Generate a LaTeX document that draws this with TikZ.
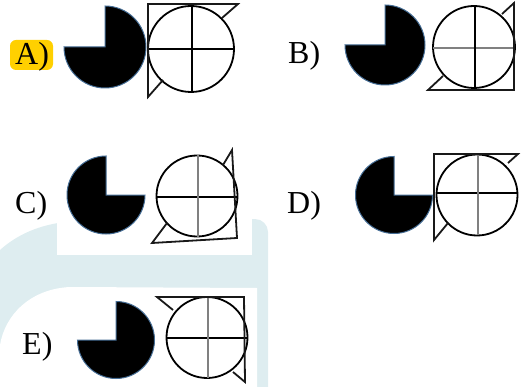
\documentclass[tikz,border=0pt]{standalone}
\usepackage{fontspec}
\setmainfont{Liberation Serif}
\definecolor{wm}{RGB}{222,237,240}
\definecolor{hl}{RGB}{255,208,0}
\definecolor{pacedge}{RGB}{70,110,150}
\definecolor{gline}{RGB}{128,128,128}
\tikzset{
  lbl/.style={anchor=base west, inner sep=0pt, font=\fontsize{32}{32}\selectfont},
  pac/.style={fill=black, draw=pacedge, line width=1pt},
  frm/.style={draw=black!90, line width=1.8pt, line join=miter},
  crs/.style={draw=black, line width=1.8pt},
  gcrs/.style={draw=gline, line width=2.6pt}
}
\begin{document}
\begin{tikzpicture}[x=1pt,y=-1pt]
\useasboundingbox (0,0) rectangle (526,387);
% watermark
\fill[wm] (0,250) .. controls (20,232) and (45,223) .. (75,221) -- (255,219)
  arc[start angle=90, end angle=0, radius=13pt] -- (268,387) -- (0,387) -- cycle;
\fill[white] (57,200) rectangle (252,255);
\fill[white] (0,345) .. controls (5,315) and (30,289) .. (70,287) -- (257,288) -- (257,387) -- (0,387) -- cycle;
% A
\fill[hl, rounded corners=6pt] (10,40) rectangle (53,70);
\node[lbl] (la) at (15,65) {A)};
\fill[pac] (105,47) -- ++(-41pt,0pt) arc[start angle=180, end angle=450, radius=41pt] -- cycle;
\draw[crs] (191,49) circle[radius=43pt];
\draw[crs] (148,49) -- (234,49);
\draw[crs] (192,4) -- (192,93);
\draw[frm] (222,18) -- (238,4) -- (148,4) -- (148,97) -- (163,80);
% B
\node[lbl] (lb) at (288,64) {B)};
\fill[pac] (385,45) -- ++(-40pt,0pt) arc[start angle=180, end angle=450, radius=40pt] -- cycle;
\draw[crs] (474,47) circle[radius=41pt];
\draw[gcrs] (433,48) -- (514,48);
\draw[crs] (475,6) -- (475,90);
\draw[frm] (502,14) -- (514,3) -- (514,90) -- (428,90) -- (443,76);
% C
\node[lbl] (lc) at (15,213) {C)};
\fill[pac] (106,195) -- ++(39pt,0pt) arc[start angle=0, end angle=-270, radius=39pt] -- cycle;
\draw[crs] (197,196) circle[radius=40.5pt];
\draw[crs] (157,197) -- (237,197);
\draw[gcrs] (198,155) -- (198,237);
\draw[frm] (223,165) -- (232,150) -- (237,238) -- (152,243) -- (167,223);
% D
\node[lbl] (ld) at (287,213) {D)};
\fill[pac] (394,195) -- ++(38.5pt,0pt) arc[start angle=0, end angle=-270, radius=38.5pt] -- cycle;
\draw[crs] (477,195) circle[radius=40.5pt];
\draw[crs] (436,193) -- (518,193);
\draw[gcrs] (478,154) -- (478,235);
\draw[frm] (508,163) -- (518,154) -- (434,154) -- (434,240) -- (448,223);
% E
\node[lbl] (le) at (22,354) {E)};
\fill[pac] (116,340) -- ++(-38.5pt,0pt) arc[start angle=180, end angle=450, radius=38.5pt] -- cycle;
\draw[crs] (207,337.5) circle[radius=40.5pt];
\draw[crs] (167,338) -- (247,338);
\draw[gcrs] (208,297) -- (208,378);
\draw[frm] (173,310) -- (157,297) -- (244,297) -- (245,382) -- (233,372);
\end{tikzpicture}
\end{document}
